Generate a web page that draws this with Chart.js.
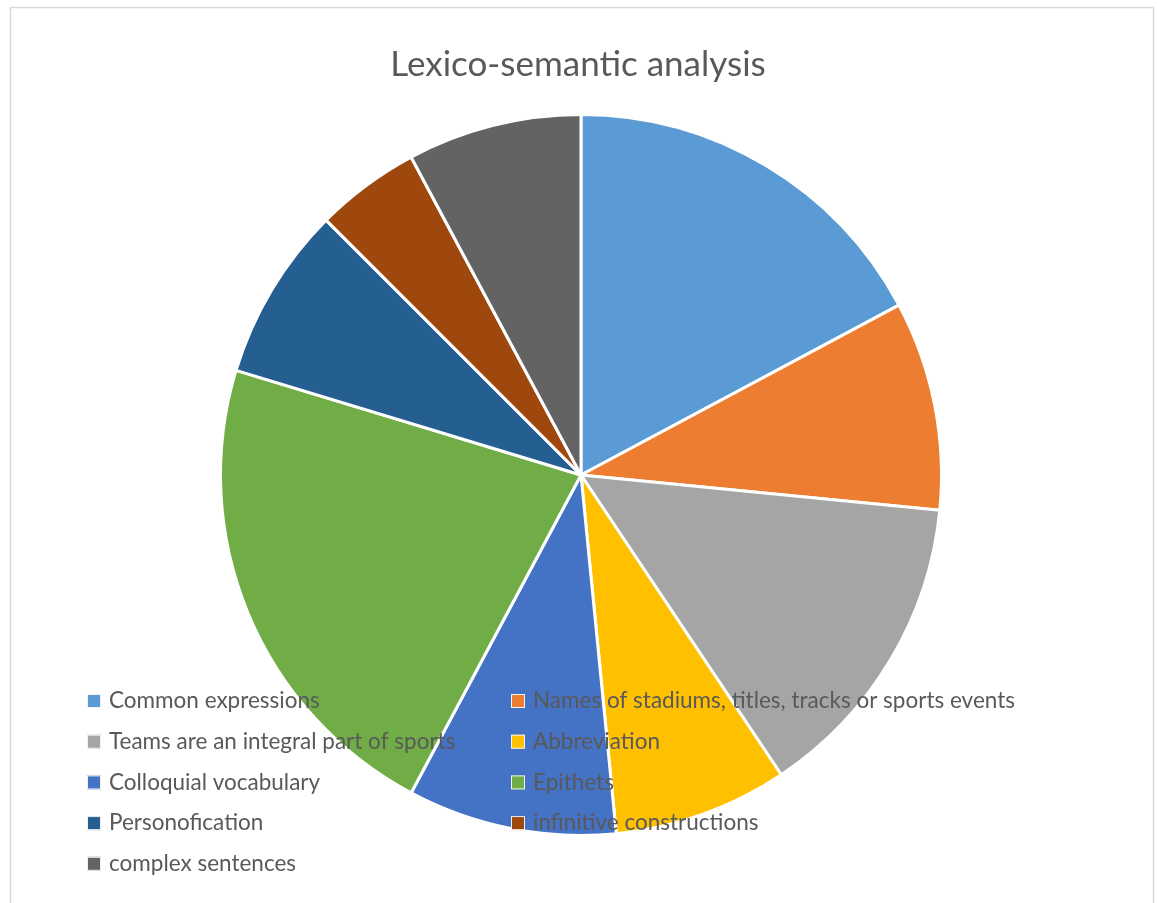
<!DOCTYPE html>
<html>
<head>
<meta charset="utf-8">
<script src="https://cdn.jsdelivr.net/npm/chart.js@4"></script>
<style>
  html, body { margin: 0; padding: 0; background: #fff; }
  #wrap { position: relative; width: 1157px; height: 903px; }
</style>
</head>
<body>
<div id="wrap"><canvas id="myChart" width="1157" height="903"></canvas></div>
<script>
const categories = [
  "Common expressions",
  "Names of stadiums, titles, tracks or sports events",
  "Teams are an integral part of sports",
  "Abbreviation",
  "Colloquial vocabulary",
  "Epithets",
  "Personofication",
  "infinitive constructions",
  "complex sentences",
];
const counts = [11, 6, 9, 5, 6, 14, 5, 3, 5];
const colors = [
  "#5B9BD5", "#ED7D31", "#A5A5A5", "#FFC000", "#4472C4",
  "#70AD47", "#255E91", "#9E480E", "#636363",
];
const chartTitle = "Lexico-semantic analysis";

// title, frame and the two-column legend that sits over the pie
const overlay = {
  id: "overlay",
  beforeDraw(chart) {
    const c = chart.ctx;
    c.save();
    c.strokeStyle = "#d9d9d9";
    c.lineWidth = 1.5;
    c.strokeRect(10.5, 7.5, 1143, 920);
    c.fillStyle = "#595959";
    c.font = "35px Lato, 'Open Sans', sans-serif";
    c.textAlign = "center";
    c.textBaseline = "middle";
    c.fillText(chartTitle, 578, 65);
    c.restore();
  },
  afterDraw(chart) {
    const c = chart.ctx;
    c.save();
    c.font = "22.5px Lato, 'Open Sans', sans-serif";
    c.textBaseline = "middle";
    c.textAlign = "left";
    categories.forEach((name, i) => {
      const col = i % 2;
      const row = Math.floor(i / 2);
      const bx = col === 0 ? 87 : 511;
      const y = 701 + row * 40.7;
      c.fillStyle = colors[i];
      c.fillRect(bx, y - 7, 14, 14);
      c.strokeStyle = "#f2f2f2";
      c.lineWidth = 1;
      c.strokeRect(bx + 0.5, y - 6.5, 13, 13);
      c.fillStyle = "#595959";
      c.fillText(name, bx + 22, y);
    });
    c.restore();
  },
};

new Chart(document.getElementById("myChart").getContext("2d"), {
  type: "pie",
  data: {
    labels: categories,
    datasets: [
      {
        data: counts,
        backgroundColor: colors,
        borderColor: "#ffffff",
        borderWidth: 3,
      },
    ],
  },
  options: {
    responsive: false,
    animation: false,
    layout: {
      padding: { left: 219, right: 214, top: 113, bottom: 66 },
    },
    plugins: {
      legend: { display: false },
      title: { display: false },
      tooltip: { enabled: false },
    },
  },
  plugins: [overlay],
});
</script>
</body>
</html>
